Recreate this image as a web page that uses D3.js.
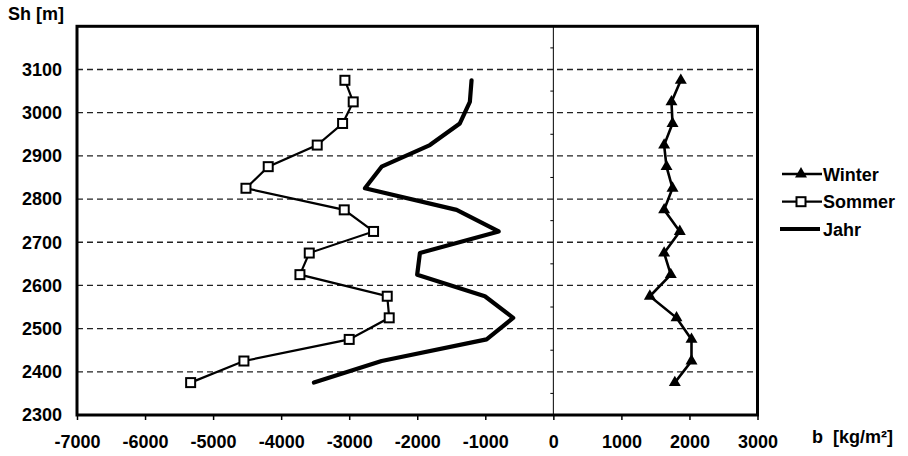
<!DOCTYPE html>
<html><head><meta charset="utf-8">
<script src="https://cdn.jsdelivr.net/npm/d3@7"></script>
<style>
body{margin:0;background:#fff;}
text{font-family:"Liberation Sans",Arial,sans-serif;font-weight:bold;fill:#000;}
</style></head>
<body>
<svg id="c" width="908" height="456"></svg>
<script>
const heights = [2375,2425,2475,2525,2575,2625,2675,2725,2775,2825,2875,2925,2975,3025,3075];
const winter  = [1785,2030,2030,1810,1418,1726,1628,1858,1628,1751,1663,1628,1751,1736,1873];
const sommer  = [-5330,-4547,-3000,-2412,-2441,-3724,-3587,-2642,-3073,-4517,-4190,-3470,-3097,-2941,-3063];
const jahr    = [-3518,-2524,-981,-590,-1006,-2001,-1961,-803,-1422,-2769,-2524,-1814,-1374,-1227,-1202];
const xTicks  = [-7000,-6000,-5000,-4000,-3000,-2000,-1000,0,1000,2000,3000];
const yTicks  = [2300,2400,2500,2600,2700,2800,2900,3000,3100];
const seriesNames = ["Winter","Sommer","Jahr"];

const svg = d3.select("#c");
const x = d3.scaleLinear().domain([-7000,3000]).range([77,757.5]);
const y = d3.scaleLinear().domain([2300,3200]).range([415,26.3]);

// gridlines
svg.append("g").selectAll("line").data(yTicks.slice(1)).join("line")
  .attr("x1",x(-7000)).attr("x2",x(3000)).attr("y1",d=>y(d)).attr("y2",d=>y(d))
  .attr("stroke","#222").attr("stroke-width",1.3).attr("stroke-dasharray","6,4");

// zero axis with small ticks
const zx = x(0);
svg.append("line").attr("x1",zx).attr("x2",zx).attr("y1",y(3200)).attr("y2",y(2300))
  .attr("stroke","#000").attr("stroke-width",1);
svg.append("g").selectAll("line").data(d3.range(2350,3200,100)).join("line")
  .attr("x1",zx-3).attr("x2",zx).attr("y1",d=>y(d)).attr("y2",d=>y(d))
  .attr("stroke","#000").attr("stroke-width",1);

// x axis
const xAxis = svg.append("g").attr("transform",`translate(0,${y(2300)})`)
  .call(d3.axisBottom(x).tickValues(xTicks).tickSize(5).tickPadding(14).tickFormat(d3.format("d")));
xAxis.select(".domain").remove();
xAxis.selectAll("line").attr("stroke","#000").attr("stroke-width",1.5);
xAxis.selectAll("text").attr("font-size",18).attr("font-family","Liberation Sans, Arial, sans-serif").attr("font-weight","bold").attr("dy","0.32em").attr("y",27);
xAxis.selectAll("text").text(d=>d<0?"-"+Math.abs(d):d);

// y axis labels
const yAxis = svg.append("g").attr("transform",`translate(${x(-7000)},0)`)
  .call(d3.axisLeft(y).tickValues(yTicks).tickSize(0).tickPadding(15).tickFormat(d3.format("d")));
yAxis.select(".domain").remove();
yAxis.selectAll("text").attr("font-size",18).attr("font-family","Liberation Sans, Arial, sans-serif").attr("font-weight","bold");

// lines
const lineGen = vals => d3.line().x((d,i)=>x(vals[i])).y(d=>y(d))(heights);
svg.append("path").attr("d",lineGen(jahr)).attr("fill","none").attr("stroke","#000").attr("stroke-width",4.2).attr("stroke-linejoin","round").attr("stroke-linecap","round");
svg.append("path").attr("d",lineGen(sommer)).attr("fill","none").attr("stroke","#000").attr("stroke-width",2.2);
svg.append("path").attr("d",lineGen(winter)).attr("fill","none").attr("stroke","#000").attr("stroke-width",2.6);

// markers
const tri = d3.symbol().type(d3.symbolTriangle).size(62);
svg.append("g").selectAll("path").data(heights).join("path")
  .attr("d",tri).attr("transform",(d,i)=>`translate(${x(winter[i])},${y(d)})`).attr("fill","#000");
svg.append("g").selectAll("rect").data(heights).join("rect")
  .attr("x",(d,i)=>x(sommer[i])-4.5).attr("y",d=>y(d)-4.5).attr("width",9).attr("height",9)
  .attr("fill","#fff").attr("stroke","#000").attr("stroke-width",2);

// frame
svg.append("rect").attr("x",x(-7000)).attr("y",y(3200)).attr("width",x(3000)-x(-7000)).attr("height",y(2300)-y(3200))
  .attr("fill","none").attr("stroke","#000").attr("stroke-width",3);

// titles
svg.append("text").attr("x",8).attr("y",20).attr("font-size",18).text("Sh [m]");
svg.append("text").attr("x",812).attr("y",443).attr("font-size",18).text("b\u00a0 [kg/m²]");

// legend
const lg = svg.append("g");
const ly = [174,201.7,229];
seriesNames.forEach((n,i)=>{
  const yy = ly[i];
  lg.append("line").attr("x1",i===2?780:782).attr("x2",i===2?820:822).attr("y1",yy).attr("y2",yy).attr("stroke","#000").attr("stroke-width",i===2?4.2:(i===0?2.6:2.2));
  if(i===0) lg.append("path").attr("d",tri).attr("transform",`translate(801,${yy})`).attr("fill","#000");
  if(i===1) lg.append("rect").attr("x",796.5).attr("y",yy-4.5).attr("width",9).attr("height",9).attr("fill","#fff").attr("stroke","#000").attr("stroke-width",2);
  lg.append("text").attr("x",823).attr("y",yy+6.5).attr("font-size",18).text(n);
});
</script>
</body></html>
